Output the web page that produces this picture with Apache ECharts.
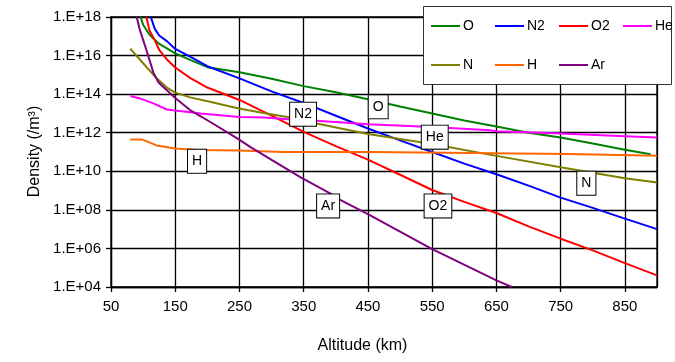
<!DOCTYPE html>
<html>
<head>
<meta charset="utf-8">
<script src="https://cdn.jsdelivr.net/npm/echarts@6/dist/echarts.min.js"></script>
<style>html,body{margin:0;padding:0;background:#fff}#c{width:675px;height:362px}</style>
</head>
<body>
<div id="c"></div>
<script>
// ---- data (altitude km, density /m^3) ----
const oAlt  = [96, 100, 110, 124, 150, 175, 200, 250, 300, 350, 400, 450, 500, 550, 600, 650, 700, 750, 800, 850, 890];
const oVal  = [1e18, 4e17, 1.2e17, 4.3e16, 1.3e16, 5.6e15, 2.5e15, 1.35e15, 6.3e14, 2.6e14, 1.26e14, 5.5e13, 2.3e13, 1e13, 4.3e12, 2.1e12, 1e12, 5.6e11, 2.75e11, 1.3e11, 7.6e10];

const n2Alt = [112, 118, 125, 137, 150, 173, 200, 250, 300, 350, 400, 450, 500, 550, 600, 650, 700, 750, 800, 850, 900];
const n2Val = [1e18, 2.5e17, 1.1e17, 5.6e16, 2.2e16, 8.9e15, 2.8e15, 6.6e14, 1.4e14, 3.5e13, 7.6e12, 1.66e12, 4e11, 1e11, 2.5e10, 7e9, 1.8e9, 4.3e8, 1.26e8, 3.5e7, 1e7];

const o2Alt = [105, 110, 118, 125, 137, 150, 173, 200, 250, 300, 350, 400, 450, 500, 550, 600, 650, 700, 750, 800, 850, 900];
const o2Val = [1e18, 2e17, 6.3e16, 2e16, 6.3e15, 2.4e15, 7e14, 2.2e14, 5e13, 7.6e12, 1.1e12, 2e11, 4e10, 6.6e9, 1.07e9, 2.6e8, 6.9e7, 1.4e7, 3.2e6, 7.9e5, 1.74e5, 4e4];

const heAlt = [80, 95, 116, 137, 150, 190, 250, 290, 340, 370, 450, 550, 640, 650, 750, 850, 900];
const heVal = [8e13, 6e13, 3.3e13, 1.6e13, 1.4e13, 1e13, 6.6e12, 6.2e12, 4.5e12, 4.2e12, 2.75e12, 2e12, 1.35e12, 1.2e12, 9.1e11, 6.6e11, 5.6e11];

const nAlt  = [80, 100, 121, 137, 150, 173, 204, 249, 292, 329, 370, 450, 550, 650, 750, 850, 900];
const nVal  = [2.3e16, 4e15, 6.6e14, 2.2e14, 1.2e14, 6.8e13, 4e13, 1.8e13, 1e13, 6.2e12, 3e12, 8.5e11, 2.6e11, 6.3e10, 1.6e10, 4.3e9, 2.6e9];

const hAlt  = [80, 98, 121, 150, 188, 249, 318, 456, 458, 760, 762, 900];
const hVal  = [4.5e11, 4.5e11, 2.2e11, 1.5e11, 1.26e11, 1.2e11, 1e11, 1e11, 8.3e10, 7.8e10, 6.3e10, 6.3e10];

const arAlt = [90, 95, 105, 116, 124, 137, 150, 173, 204, 249, 266, 300, 344, 391, 406, 450, 550, 650, 674];
const arVal = [1e18, 2.1e17, 2e16, 1.3e15, 4e14, 1.6e14, 6.3e13, 1.5e13, 3.7e12, 4.5e11, 1.9e11, 3.9e10, 5.1e9, 7.1e8, 3.4e8, 6e7, 9.3e5, 2.2e4, 1e4];

const seriesNames  = ['O', 'N2', 'O2', 'He', 'N', 'H', 'Ar'];
const seriesAlts   = [oAlt, n2Alt, o2Alt, heAlt, nAlt, hAlt, arAlt];
const seriesVals   = [oVal, n2Val, o2Val, heVal, nVal, hVal, arVal];
const seriesColors = ['#008000', '#0000ff', '#ff0000', '#ff00ff', '#808000', '#ff6600', '#800080'];

// in-chart labels: [text, altitude, density]
const labelNames = ['N2', 'O', 'He', 'H', 'N', 'Ar', 'O2'];
const labelAlts  = [349, 466, 554, 184, 790, 388, 559];
const labelVals  = [9.1e12, 2.2e13, 5.9e11, 3.3e10, 2.4e9, 1.6e8, 1.6e8];

const xTicksMin = 50, xTicksMax = 900, xInterval = 100;
const yMin = 1e4, yMax = 1e18;

const FONT = "'Liberation Sans', Arial, sans-serif";
const GRID = '#000';

const series = seriesNames.map((n, i) => ({
  name: n,
  type: 'line',
  symbol: 'none',
  showSymbol: false,
  clip: true,
  color: seriesColors[i],
  lineStyle: { width: 2, color: seriesColors[i] },
  data: seriesAlts[i].map((a, j) => [a, seriesVals[i][j]]),
  z: 3
}));

series.push({
  name: 'labels',
  type: 'scatter',
  data: [],
  z: 6,
  markPoint: {
    symbol: 'rect',
    symbolSize: 0,
    z: 6,
    label: {
      show: true,
      position: 'inside',
      formatter: p => p.name,
      fontFamily: FONT,
      fontSize: 14,
      color: '#000',
      lineHeight: 16,
      backgroundColor: '#fff',
      borderColor: '#000',
      borderWidth: 1,
      padding: [4, 4, 3, 4]
    },
    data: labelNames.map((n, i) => ({ name: n, coord: [labelAlts[i], labelVals[i]] }))
  }
});

// legend: 4 columns, 2 rows, one legend component per entry
const legendCols = [431, 495, 559, 623];
const legendRows = [19, 58];
const legends = seriesNames.map((n, i) => ({
  orient: 'horizontal',
  left: legendCols[i % 4],
  top: legendRows[Math.floor(i / 4)],
  padding: 0,
  itemGap: 0,
  itemWidth: 29,
  itemHeight: 2,
  icon: 'rect',
  z: 20,
  selectedMode: false,
  data: [n],
  textStyle: { fontFamily: FONT, fontSize: 14, color: '#000', padding: [0, 0, 0, -2] }
}));

const option = {
  animation: false,
  backgroundColor: '#fff',
  grid: { left: 111, top: 17, right: 18, bottom: 75, show: true, borderColor: GRID, borderWidth: 1.3, backgroundColor: 'transparent' },
  xAxis: {
    type: 'value',
    min: xTicksMin,
    max: xTicksMax,
    interval: xInterval,
    axisLine: { show: true, onZero: false, lineStyle: { color: GRID, width: 1.3 } },
    axisTick: { show: true, length: 5, lineStyle: { color: GRID, width: 1.3 } },
    splitLine: { show: true, lineStyle: { color: GRID, width: 1.3, opacity: 1 } },
    axisLabel: { showMaxLabel: false, fontFamily: FONT, fontSize: 15, color: '#000', margin: 12 }
  },
  yAxis: {
    type: 'log',
    logBase: 10,
    min: yMin,
    max: yMax,
    interval: 2,
    axisLine: { show: true, lineStyle: { color: GRID, width: 1.3 } },
    axisTick: { show: true, length: 5, lineStyle: { color: GRID, width: 1.3 } },
    minorTick: { show: false },
    splitLine: { show: true, lineStyle: { color: GRID, width: 1.3, opacity: 1 } },
    axisLabel: {
      fontFamily: FONT, fontSize: 15, color: '#000', margin: 10,
      formatter: v => '1.E+' + String(Math.round(Math.log10(v))).padStart(2, '0')
    }
  },
  legend: legends,
  graphic: [
    { type: 'rect', z: 15, shape: { x: 423.5, y: 6.5, width: 248, height: 78 },
      style: { fill: '#fff', stroke: '#333', lineWidth: 1 } },
    { type: 'text', z: 15, x: 35, y: 151.5, rotation: Math.PI / 2,
      style: { text: 'Density (/m³)', font: '16px ' + FONT, fill: '#000', textAlign: 'center', textVerticalAlign: 'middle' } },
    { type: 'text', z: 15, x: 362.5, y: 346,
      style: { text: 'Altitude (km)', font: '16px ' + FONT, fill: '#000', textAlign: 'center', textVerticalAlign: 'middle' } }
  ],
  series: series
};

const chart = echarts.init(document.getElementById('c'), null, { renderer: 'canvas' });
chart.setOption(option);
</script>
</body>
</html>
